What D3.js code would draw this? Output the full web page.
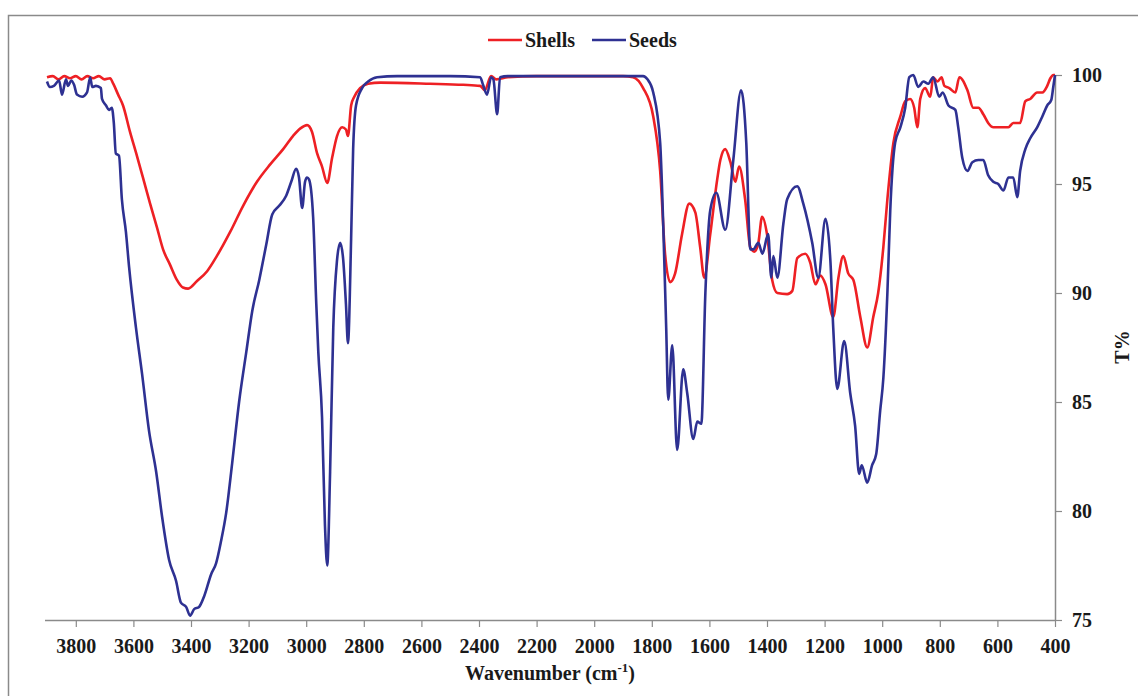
<!DOCTYPE html>
<html>
<head>
<meta charset="utf-8">
<script src="https://cdn.jsdelivr.net/npm/d3@7"></script>
<style>
  body { margin: 0; background: #fff; }
</style>
</head>
<body>
<div id="chart"></div>
<script>
// FTIR spectra, wavenumber (cm-1) -> transmittance (%)
const shellsWave = [3900,3880,3860,3840,3820,3800,3780,3760,3740,3720,3700,3681,3670,3653,3636,3612,3588,3567,3542,3518,3497,3473,3449,3428,3410,3379,3344,3310,3264,3219,3171,3125,3080,3046,3020,2997,2980,2962,2945,2927,2910,2893,2875,2862,2855,2844,2833,2813,2785,2743,2570,2455,2396,2380,2358,2340,2300,2200,2000,1900,1865,1830,1795,1771,1754,1736,1719,1695,1670,1649,1632,1618,1597,1573,1562,1545,1527,1510,1497,1476,1458,1444,1430,1417,1400,1382,1364,1330,1312,1295,1267,1250,1232,1215,1197,1170,1152,1135,1118,1100,1076,1052,1031,1014,996,982,961,937,920,903,889,878,868,851,833,823,808,794,784,767,746,732,704,684,666,649,632,614,590,562,545,521,503,486,462,444,427,416,406,400]
const shellsT = [99.9,99.95,99.8,99.95,99.85,99.95,99.8,99.95,99.85,99.95,99.8,99.85,99.6,99.1,98.6,97.4,96.3,95.3,94.1,93.0,92.0,91.3,90.6,90.25,90.2,90.55,91.0,91.7,92.8,94.0,95.1,95.9,96.6,97.2,97.55,97.7,97.4,96.4,95.8,95.05,96.2,97.2,97.6,97.5,97.2,98.6,99.0,99.4,99.6,99.65,99.6,99.55,99.5,99.3,99.95,99.8,99.9,99.95,99.95,99.95,99.9,99.4,98.1,95.6,91.8,90.5,90.9,92.7,94.1,93.7,92.1,90.7,92.7,95.2,96.1,96.6,96.0,95.1,95.8,94.3,92.1,91.9,92.3,93.5,92.7,90.6,90.0,89.95,90.1,91.6,91.8,91.4,90.4,90.8,90.4,88.9,90.7,91.7,90.9,90.6,88.9,87.5,88.9,90.0,92.1,94.3,96.9,98.1,98.8,98.9,98.5,97.6,98.9,99.4,99.0,99.9,99.7,99.9,99.5,99.4,99.2,99.9,99.3,98.5,98.5,98.2,97.8,97.6,97.6,97.6,97.8,97.8,98.8,98.9,99.2,99.2,99.5,99.85,100,100]

const seedsWave = [3900,3890,3876,3858,3848,3834,3827,3816,3806,3796,3778,3761,3750,3743,3730,3713,3709,3695,3685,3675,3668,3661,3650,3640,3626,3615,3591,3570,3546,3521,3500,3476,3452,3435,3417,3403,3389,3372,3354,3330,3313,3296,3278,3257,3233,3208,3187,3163,3139,3118,3094,3070,3052,3035,3025,3014,3004,2997,2990,2976,2965,2958,2945,2935,2927,2917,2906,2893,2882,2872,2862,2855,2844,2837,2827,2806,2785,2754,2684,2500,2396,2386,2372,2358,2350,2337,2327,2300,1830,1815,1795,1771,1760,1750,1743,1729,1712,1691,1677,1656,1642,1628,1614,1597,1576,1545,1517,1490,1472,1458,1448,1430,1416,1396,1385,1378,1364,1343,1330,1295,1274,1243,1222,1197,1180,1170,1156,1132,1111,1094,1080,1071,1052,1035,1021,1007,996,982,972,955,937,920,906,892,875,857,840,823,802,790,770,746,736,722,704,687,666,649,632,614,597,579,562,545,531,521,503,486,462,444,427,413,406,400]
const seedsT = [99.7,99.45,99.5,99.75,99.1,99.8,99.5,99.75,99.55,99.1,99.0,99.2,99.9,99.45,99.5,99.4,98.9,98.6,98.4,98.5,97.8,96.4,96.3,94.3,92.8,91.2,88.4,86.3,83.7,81.8,79.7,77.75,76.8,75.8,75.6,75.2,75.5,75.6,76.1,77.1,77.6,78.6,79.9,82.2,85.0,87.3,89.2,90.6,92.2,93.6,94.0,94.45,95.1,95.7,95.3,93.9,95.1,95.3,95.2,93.5,89.5,87.3,84.3,79.4,77.5,81.8,88.4,91.5,92.3,91.6,89.5,87.7,92.5,96.6,98.6,99.4,99.7,99.9,99.95,99.95,99.9,99.55,99.1,99.9,99.8,98.2,99.9,99.95,99.95,99.8,99.2,96.9,93.0,88.4,85.1,87.6,82.8,86.5,85.4,83.3,84.1,84.0,90.0,93.8,94.6,92.9,96.1,99.3,96.9,92.0,92.0,92.3,91.8,92.7,90.7,91.7,90.7,93.2,94.3,94.9,94.1,92.3,90.7,93.4,91.5,88.4,85.6,87.8,85.4,83.9,81.7,82.1,81.3,82.1,82.6,84.6,86.1,90.0,93.8,96.9,97.6,98.5,99.9,100,99.45,99.7,99.6,99.9,99.0,99.2,98.6,98.4,97.6,96.2,95.6,96.0,96.1,96.1,95.4,95.1,95.0,94.7,95.3,95.3,94.4,95.6,96.6,97.1,97.6,98.1,98.6,98.85,99.45,100]

const xTicks = [3800,3600,3400,3200,3000,2800,2600,2400,2200,2000,1800,1600,1400,1200,1000,800,600,400]
const yTicks = [75,80,85,90,95,100]

const seriesNames = ["Shells", "Seeds"]
const seriesColors = ["#ee2024", "#2e3192"]

const width = 1138, height = 696
const axisColor = "#8a8a8a"
const serif = "'Liberation Serif', 'Times New Roman', 'DejaVu Serif', serif"
const textColor = "#1a1a1a"

const svg = d3.select("#chart").append("svg")
  .attr("width", width)
  .attr("height", height)

// outer frame
svg.append("rect")
  .attr("x", 8.5).attr("y", 15.5)
  .attr("width", 1140).attr("height", 700)
  .attr("fill", "none")
  .attr("stroke", axisColor)
  .attr("stroke-width", 1.5)

let x = d3.scaleLinear().domain([3900, 400]).range([47, 1055])
let y = d3.scaleLinear().domain([75, 100]).range([620, 75])

// x axis
let xAxis = svg.append("g")
  .attr("transform", "translate(0,620)")
  .call(d3.axisBottom(x).tickValues(xTicks).tickFormat(d3.format("d")).tickSize(7).tickPadding(10))
xAxis.select(".domain").attr("d", "M45,0.5H1055").attr("stroke", axisColor).attr("stroke-width", 1.5)
xAxis.selectAll(".tick line").attr("stroke", axisColor).attr("stroke-width", 1.2)
xAxis.selectAll(".tick text")
  .style("font-family", serif).style("font-weight", "bold")
  .attr("fill", textColor).attr("font-size", 20).attr("dy", "0.8em")

// y axis on the right
let yAxis = svg.append("g")
  .attr("transform", "translate(1055,0)")
  .call(d3.axisRight(y).tickValues(yTicks).tickSize(7).tickPadding(10))
yAxis.select(".domain").attr("d", "M0.5,75V620").attr("stroke", axisColor).attr("stroke-width", 1.5)
yAxis.selectAll(".tick line").attr("stroke", axisColor).attr("stroke-width", 1.2)
yAxis.selectAll(".tick text")
  .style("font-family", serif).style("font-weight", "bold")
  .attr("fill", textColor).attr("font-size", 20)

// axis titles
let xTitle = svg.append("text")
  .attr("x", 550).attr("y", 680)
  .attr("text-anchor", "middle")
  .style("font-family", serif).style("font-weight", "bold")
  .attr("fill", textColor)
  .attr("font-size", 20)
xTitle.append("tspan").text("Wavenumber (cm")
xTitle.append("tspan").attr("font-size", 13).attr("dy", -8).text("-1")
xTitle.append("tspan").attr("dy", 8).text(")")

svg.append("text")
  .attr("transform", "translate(1129,347) rotate(-90)")
  .attr("text-anchor", "middle")
  .style("font-family", serif).style("font-weight", "bold")
  .attr("fill", textColor)
  .attr("font-size", 20)
  .text("T%")

// spectra
const series = [
  shellsWave.map((w, i) => [w, shellsT[i]]),
  seedsWave.map((w, i) => [w, seedsT[i]])
]

let line = d3.line()
  .x(d => x(d[0]))
  .y(d => y(d[1]))
  .curve(d3.curveMonotoneX)

// shells first, seeds on top
series.forEach((pts, i) => {
  svg.append("path")
    .datum(pts)
    .attr("d", line)
    .attr("fill", "none")
    .attr("stroke", seriesColors[i])
    .attr("stroke-width", 2.6)
    .attr("stroke-linejoin", "round")
})

// legend
let legendX = [488, 592]
seriesNames.forEach((name, i) => {
  let g = svg.append("g").attr("transform", `translate(${legendX[i]},40)`)
  g.append("line")
    .attr("x1", 0).attr("x2", 34)
    .attr("y1", 0).attr("y2", 0)
    .attr("stroke", seriesColors[i])
    .attr("stroke-width", 2.6)
  g.append("text")
    .attr("x", 37).attr("y", 7)
    .style("font-family", serif).style("font-weight", "bold")
    .attr("fill", textColor)
    .attr("font-size", 20)
    .text(name)
})
</script>
</body>
</html>
